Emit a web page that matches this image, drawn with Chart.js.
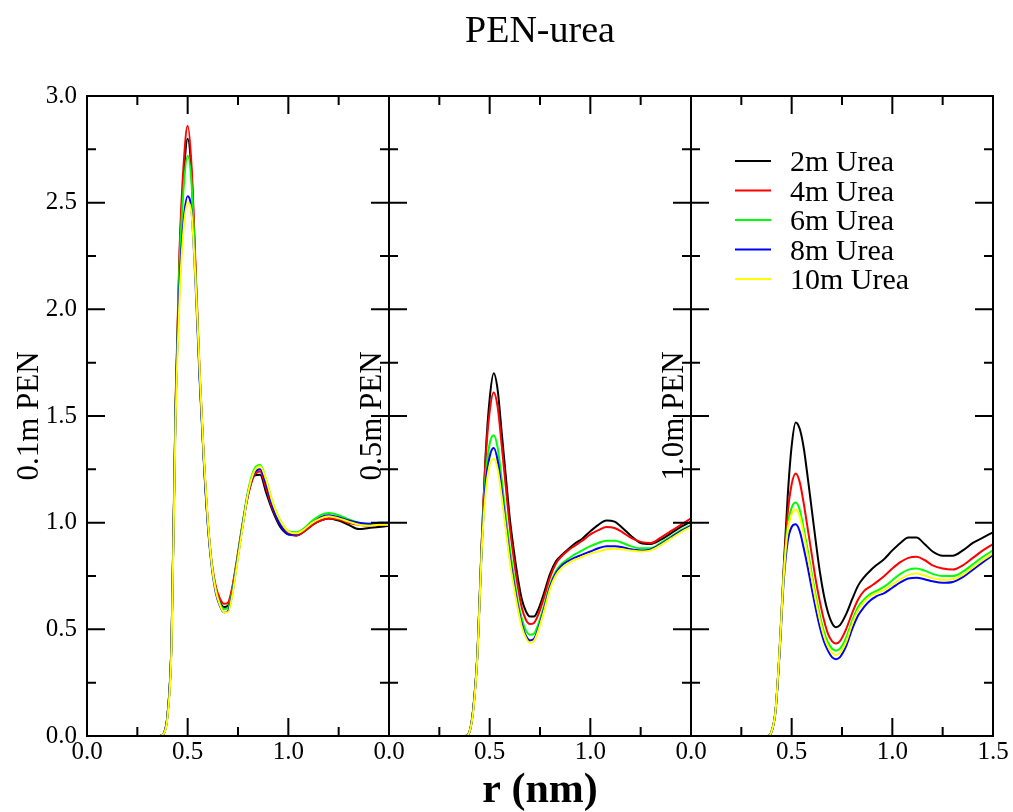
<!DOCTYPE html>
<html>
<head>
<meta charset="utf-8">
<title>PEN-urea</title>
<script src="https://cdn.jsdelivr.net/npm/chart.js@4.4.1/dist/chart.umd.min.js"></script>
<style>
  html, body { margin: 0; padding: 0; background: #fff; }
  #wrap { width: 1013px; height: 812px; }
</style>
</head>
<body>
<div id="wrap"><canvas id="rdf" width="1013" height="812"></canvas></div>
<script>
// r (nm) grid shared by all curves
const r = [0, 0.36, 0.38, 0.40, 0.42, 0.44, 0.46, 0.48, 0.50, 0.52, 0.54, 0.56, 0.58, 0.60, 0.62, 0.64,
  0.66, 0.68, 0.70, 0.72, 0.74, 0.77, 0.80, 0.83, 0.86, 0.89, 0.92, 0.96, 1.00, 1.04, 1.08, 1.12,
  1.16, 1.20, 1.25, 1.30, 1.35, 1.40, 1.45, 1.50];

const seriesLabels = ["2m Urea", "4m Urea", "6m Urea", "8m Urea", "10m Urea"];
const seriesColors = ["#000000", "#ff0000", "#00ff00", "#0000ff", "#ffff00"];
const panelTitles = ["0.1m PEN", "0.5m PEN", "1.0m PEN"];
const xTickValues = [0, 0.25, 0.5, 0.75, 1.0, 1.25, 1.5];
const yTickValues = [0, 0.25, 0.5, 0.75, 1.0, 1.25, 1.5, 1.75, 2.0, 2.25, 2.5, 2.75, 3.0];

// 0.1m PEN
const pen01_2m = [0, 0, 0.01, 0.10, 0.45, 1.55, 2.25, 2.62, 2.80, 2.62, 2.15, 1.68, 1.30, 1.00, 0.80, 0.69,
  0.63, 0.605, 0.61, 0.68, 0.79, 0.97, 1.13, 1.22, 1.225, 1.14, 1.06, 0.98, 0.945, 0.94, 0.96, 0.99,
  1.01, 1.02, 1.01, 0.99, 0.97, 0.975, 0.98, 0.985];
const pen01_4m = [0, 0, 0.01, 0.10, 0.45, 1.57, 2.29, 2.68, 2.86, 2.66, 2.18, 1.70, 1.31, 1.01, 0.81, 0.70,
  0.645, 0.62, 0.625, 0.69, 0.80, 0.98, 1.13, 1.22, 1.24, 1.16, 1.07, 0.99, 0.95, 0.94, 0.96, 0.99,
  1.01, 1.02, 1.015, 1.0, 0.99, 0.985, 0.99, 0.99];
const pen01_6m = [0, 0, 0.01, 0.10, 0.45, 1.55, 2.22, 2.57, 2.72, 2.58, 2.14, 1.68, 1.30, 1.00, 0.80, 0.68,
  0.62, 0.595, 0.60, 0.67, 0.79, 0.98, 1.15, 1.25, 1.27, 1.20, 1.10, 1.01, 0.96, 0.955, 0.975, 1.01,
  1.035, 1.045, 1.035, 1.015, 1.0, 0.995, 1.0, 1.0];
const pen01_8m = [0, 0, 0.01, 0.10, 0.45, 1.52, 2.12, 2.42, 2.53, 2.45, 2.10, 1.66, 1.29, 0.99, 0.79, 0.67,
  0.61, 0.58, 0.585, 0.66, 0.78, 0.97, 1.14, 1.23, 1.25, 1.18, 1.08, 0.99, 0.945, 0.945, 0.97, 1.0,
  1.025, 1.035, 1.025, 1.01, 1.0, 0.995, 1.0, 1.0];
const pen01_10m = [0, 0, 0.01, 0.09, 0.42, 1.48, 2.06, 2.38, 2.50, 2.44, 2.12, 1.70, 1.31, 1.01, 0.80, 0.68,
  0.615, 0.58, 0.58, 0.65, 0.77, 0.96, 1.14, 1.24, 1.265, 1.20, 1.10, 1.01, 0.96, 0.95, 0.97, 1.0,
  1.02, 1.03, 1.02, 1.005, 0.99, 0.985, 0.99, 0.99];

// 0.5m PEN
const pen05_2m = [0, 0, 0, 0.02, 0.14, 0.40, 0.90, 1.32, 1.58, 1.70, 1.62, 1.42, 1.22, 1.02, 0.87, 0.74,
  0.64, 0.585, 0.56, 0.56, 0.59, 0.67, 0.76, 0.82, 0.85, 0.875, 0.90, 0.925, 0.96, 0.99, 1.01, 1.005,
  0.975, 0.94, 0.905, 0.90, 0.92, 0.95, 0.98, 1.005];
const pen05_4m = [0, 0, 0, 0.02, 0.14, 0.40, 0.89, 1.30, 1.52, 1.61, 1.54, 1.36, 1.17, 0.98, 0.83, 0.70,
  0.60, 0.545, 0.525, 0.53, 0.565, 0.65, 0.745, 0.81, 0.845, 0.87, 0.89, 0.915, 0.945, 0.965, 0.98, 0.975,
  0.955, 0.93, 0.91, 0.905, 0.93, 0.96, 0.99, 1.02];
const pen05_6m = [0, 0, 0, 0.02, 0.14, 0.40, 0.88, 1.22, 1.37, 1.41, 1.35, 1.20, 1.03, 0.88, 0.75, 0.63,
  0.55, 0.495, 0.475, 0.48, 0.52, 0.61, 0.71, 0.775, 0.81, 0.83, 0.85, 0.87, 0.89, 0.905, 0.915, 0.915,
  0.905, 0.89, 0.88, 0.88, 0.905, 0.935, 0.965, 0.99];
const pen05_8m = [0, 0, 0, 0.02, 0.14, 0.40, 0.87, 1.18, 1.31, 1.35, 1.29, 1.15, 0.99, 0.84, 0.72, 0.61,
  0.525, 0.47, 0.448, 0.455, 0.50, 0.595, 0.70, 0.765, 0.80, 0.82, 0.835, 0.85, 0.865, 0.88, 0.89, 0.89,
  0.885, 0.875, 0.87, 0.875, 0.90, 0.93, 0.96, 0.985];
const pen05_10m = [0, 0, 0, 0.02, 0.13, 0.39, 0.86, 1.14, 1.27, 1.30, 1.25, 1.12, 0.97, 0.82, 0.70, 0.595,
  0.51, 0.46, 0.437, 0.445, 0.49, 0.585, 0.69, 0.755, 0.79, 0.81, 0.825, 0.84, 0.855, 0.865, 0.875, 0.878,
  0.875, 0.87, 0.865, 0.87, 0.895, 0.925, 0.955, 0.98];

// 1.0m PEN
const pen10_2m = [0, 0, 0, 0.02, 0.12, 0.40, 0.78, 1.12, 1.36, 1.47, 1.44, 1.35, 1.21, 1.06, 0.91, 0.77,
  0.66, 0.58, 0.53, 0.51, 0.52, 0.57, 0.64, 0.705, 0.745, 0.775, 0.80, 0.83, 0.87, 0.905, 0.93, 0.93,
  0.90, 0.865, 0.845, 0.845, 0.87, 0.905, 0.93, 0.955];
const pen10_4m = [0, 0, 0, 0.02, 0.12, 0.40, 0.76, 1.04, 1.18, 1.23, 1.19, 1.09, 0.97, 0.85, 0.73, 0.63,
  0.545, 0.48, 0.445, 0.434, 0.445, 0.50, 0.575, 0.64, 0.68, 0.70, 0.72, 0.75, 0.785, 0.815, 0.835, 0.84,
  0.825, 0.80, 0.785, 0.78, 0.80, 0.835, 0.87, 0.90];
const pen10_6m = [0, 0, 0, 0.02, 0.12, 0.40, 0.75, 0.98, 1.07, 1.094, 1.06, 0.97, 0.87, 0.76, 0.655, 0.565,
  0.49, 0.44, 0.41, 0.40, 0.41, 0.46, 0.54, 0.605, 0.64, 0.665, 0.68, 0.70, 0.73, 0.76, 0.78, 0.785,
  0.775, 0.76, 0.75, 0.75, 0.77, 0.805, 0.84, 0.87];
const pen10_8m = [0, 0, 0, 0.02, 0.12, 0.39, 0.72, 0.91, 0.98, 0.992, 0.96, 0.88, 0.79, 0.69, 0.595, 0.51,
  0.445, 0.40, 0.37, 0.36, 0.37, 0.42, 0.50, 0.565, 0.605, 0.635, 0.655, 0.67, 0.695, 0.72, 0.738, 0.742,
  0.735, 0.725, 0.718, 0.722, 0.745, 0.78, 0.815, 0.848];
const pen10_10m = [0, 0, 0, 0.02, 0.12, 0.40, 0.74, 0.96, 1.04, 1.062, 1.03, 0.945, 0.845, 0.74, 0.635, 0.545,
  0.47, 0.42, 0.39, 0.38, 0.39, 0.44, 0.525, 0.59, 0.63, 0.655, 0.67, 0.685, 0.71, 0.735, 0.755, 0.762,
  0.752, 0.74, 0.732, 0.735, 0.755, 0.79, 0.825, 0.856];

const panels = [
  [pen01_2m, pen01_4m, pen01_6m, pen01_8m, pen01_10m],
  [pen05_2m, pen05_4m, pen05_6m, pen05_8m, pen05_10m],
  [pen10_2m, pen10_4m, pen10_6m, pen10_8m, pen10_10m],
];
const panelAxes = ["x1", "x2", "x3"];

const FONT = "'Liberation Serif', 'Times New Roman', serif";
Chart.defaults.font.family = FONT;
Chart.defaults.color = "#000";

const datasets = [];
panels.forEach((series, k) => {
  series.forEach((vals, j) => {
    datasets.push({
      label: seriesLabels[j],
      data: r.map((x, i) => ({ x: x, y: vals[i] })),
      xAxisID: panelAxes[k],
      yAxisID: "y",
      borderColor: seriesColors[j],
      borderWidth: 2,
      pointRadius: 0,
      fill: false,
      cubicInterpolationMode: "monotone",
      order: 4 - j,
    });
  });
});

const isMajor = (v) => Math.abs(v * 2 - Math.round(v * 2)) < 1e-9;

const xScale = (k) => ({
  type: "linear",
  axis: "x",
  position: "bottom",
  stack: "r",
  stackWeight: 1,
  min: 0,
  max: 1.5,
  grid: { display: false, drawTicks: false },
  border: { display: false },
  ticks: {
    stepSize: 0.5,
    padding: 1,
    maxRotation: 0,
    minRotation: 0,
    autoSkip: false,
    font: { size: 25 },
    callback: (v) => (k < 2 && v === 1.5 ? "" : Number(v).toFixed(1)),
  },
  afterFit: (scale) => { scale.height = 76; },
});

// frames, inward ticks, titles and legend, all placed through the scales
const decorations = {
  id: "decorations",
  afterDraw(chart) {
    const ctx = chart.ctx;
    const ys = chart.scales.y;
    const top = chart.chartArea.top;
    const bottom = chart.chartArea.bottom;
    ctx.save();
    ctx.strokeStyle = "#000";
    ctx.fillStyle = "#000";
    ctx.lineWidth = 2;
    panelAxes.forEach((id, k) => {
      const xs = chart.scales[id];
      const left = xs.left;
      const right = xs.right;
      ctx.strokeRect(left, top, right - left, bottom - top);
      ctx.beginPath();
      xTickValues.forEach((v) => {
        const px = xs.getPixelForValue(v);
        const len = isMajor(v) ? 18 : 9;
        ctx.moveTo(px, bottom); ctx.lineTo(px, bottom - len);
        ctx.moveTo(px, top); ctx.lineTo(px, top + len);
      });
      yTickValues.forEach((v) => {
        const py = ys.getPixelForValue(v);
        const len = isMajor(v) ? 18 : 9;
        ctx.moveTo(left, py); ctx.lineTo(left + len, py);
        ctx.moveTo(right, py); ctx.lineTo(right - len, py);
      });
      ctx.stroke();

      // y title of each panel
      ctx.save();
      const tx = k === 0 ? left - 49 : left - 8;
      ctx.translate(tx, (top + bottom) / 2);
      ctx.rotate(-Math.PI / 2);
      ctx.font = "31px " + FONT;
      ctx.textAlign = "center";
      ctx.textBaseline = "alphabetic";
      ctx.fillText(panelTitles[k], 0, 0);
      ctx.restore();
    });

    const midX = (chart.chartArea.left + chart.chartArea.right) / 2;
    ctx.textAlign = "center";
    ctx.textBaseline = "alphabetic";
    ctx.font = "38px " + FONT;
    ctx.fillText("PEN-urea", midX, 42);
    ctx.font = "bold 42px " + FONT;
    ctx.fillText("r (nm)", midX, 802);

    // legend in the last panel
    const x3 = chart.scales.x3;
    const lx = x3.left + 44;
    ctx.textAlign = "left";
    ctx.font = "30px " + FONT;
    seriesLabels.forEach((lab, j) => {
      const ly = top + 65 + j * 29.5;
      ctx.strokeStyle = seriesColors[j];
      ctx.beginPath();
      ctx.moveTo(lx, ly);
      ctx.lineTo(lx + 36, ly);
      ctx.stroke();
      ctx.fillText(lab, lx + 55, ly + 10);
    });
    ctx.restore();
  },
};

new Chart(document.getElementById("rdf"), {
  type: "line",
  data: { datasets: datasets },
  options: {
    responsive: false,
    animation: false,
    layout: { padding: { top: 96, right: 20, bottom: 0, left: 0 } },
    plugins: {
      legend: { display: false },
      title: { display: false },
      tooltip: { enabled: false },
    },
    scales: {
      x1: xScale(0),
      x2: xScale(1),
      x3: xScale(2),
      y: {
        type: "linear",
        position: "left",
        min: 0,
        max: 3,
        grid: { display: false, drawTicks: false },
        border: { display: false },
        ticks: {
          stepSize: 0.5,
          padding: 10,
          font: { size: 25 },
          callback: (v) => Number(v).toFixed(1),
        },
        afterFit: (scale) => { scale.width = 87; },
      },
    },
  },
  plugins: [decorations],
});
</script>
</body>
</html>
